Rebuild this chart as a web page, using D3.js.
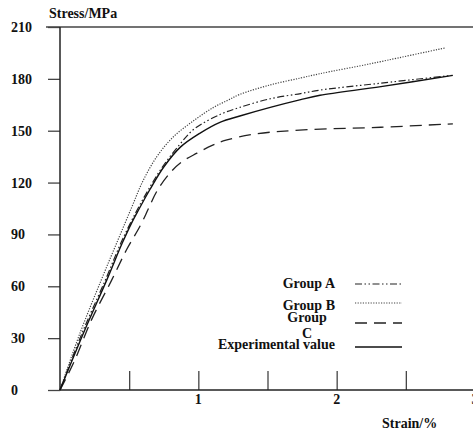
<!DOCTYPE html>
<html><head><meta charset="utf-8">
<script src="https://cdn.jsdelivr.net/npm/d3@7"></script>
<style>
html,body{margin:0;padding:0;background:#fff;}
svg text{font-family:"Liberation Serif","Times New Roman",serif;font-weight:bold;fill:#111;}
</style></head>
<body><svg id="c" width="473" height="434"></svg>
<script>
const yTicks = [0,30,60,90,120,150,180,210];
const xTickLabels = [1,2,3];
const xMinorTicks = [0.5,1,1.5,2,2.5];
const groupA = [[0,0],[0.16,33],[0.33,64],[0.44,85],[0.55,103],[0.64,116],[0.74,129],[0.86,141.5],[0.97,151],[1.16,159.5],[1.3,163.5],[1.52,168.5],[1.74,171.5],[1.88,173.5],[2.32,177.5],[2.83,182]];
const groupB = [[0,0],[0.145,33],[0.3,64],[0.42,87],[0.52,106],[0.6,121],[0.7,135],[0.82,146.5],[0.97,156],[1.11,163.5],[1.21,167.5],[1.3,171],[1.52,176.5],[1.74,180.5],[1.88,183],[2.2,188],[2.32,190],[2.79,198]];
const groupC = [[0,0],[0.1,16],[0.23,41],[0.37,63],[0.48,81],[0.58,95],[0.64,105],[0.7,115],[0.8,126],[0.88,132],[0.99,137],[1.1,141.5],[1.2,144.5],[1.4,148],[1.76,150.5],[2.32,152],[2.84,154]];
const experimental = [[0,0],[0.17,33],[0.34,64],[0.45,85],[0.52,97],[0.56,103],[0.65,116],[0.75,129],[0.87,140.5],[1.01,148.5],[1.16,155],[1.3,158.5],[1.52,163.5],[1.74,168],[1.88,170.5],[2.32,175.5],[2.84,182]];
const seriesNames = ["Group A","Group B","Group C","Experimental value"];

const svg = d3.select("#c");
const x = d3.scaleLinear().domain([0,3]).range([60,475]);
const y = d3.scaleLinear().domain([0,210]).range([390,27]);
const axisCol = "#444";

// top reference line at 210
svg.append("line").attr("x1",46).attr("x2",473).attr("y1",y(210)).attr("y2",y(210)).attr("stroke",axisCol).attr("stroke-width",1.5);

// y axis
const yAxis = d3.axisLeft(y).tickValues(yTicks).tickSize(12).tickFormat("");
const gy = svg.append("g").attr("transform","translate(60,0)").call(yAxis);
gy.select(".domain").remove();
gy.selectAll(".tick line").attr("stroke",axisCol).attr("stroke-width",1.3);
svg.append("line").attr("x1",60).attr("x2",60).attr("y1",y(210)).attr("y2",y(0)).attr("stroke","#222").attr("stroke-width",1.5);
svg.selectAll(".ylab").data(yTicks).enter().append("text").attr("class","ylab")
  .attr("x",11).attr("y",d=>y(d)+5).attr("font-size",14).text(d=>d);

// x axis
const xAxis = d3.axisTop(x).tickValues(xMinorTicks).tickSize(19).tickFormat("");
const gx = svg.append("g").attr("transform","translate(0,390)").call(xAxis);
gx.select(".domain").remove();
gx.selectAll(".tick line").attr("stroke",axisCol).attr("stroke-width",1.3);
svg.append("line").attr("x1",60).attr("x2",473).attr("y1",390).attr("y2",390).attr("stroke","#222").attr("stroke-width",1.5);
svg.selectAll(".xlab").data(xTickLabels).enter().append("text").attr("class","xlab")
  .attr("x",d=>x(d)).attr("y",404).attr("text-anchor","middle").attr("font-size",14).text(d=>d);

// titles
svg.append("text").attr("x",49).attr("y",18).attr("font-size",14).text("Stress/MPa");
svg.append("text").attr("x",382).attr("y",428).attr("font-size",14).text("Strain/%");

// curves
const line = d3.line().x(d=>x(d[0])).y(d=>y(d[1])).curve(d3.curveCatmullRom.alpha(0.5));
const styles = [
  {data:groupA, dash:"7,2.5,1.5,2.5,1.5,2.5", col:"#222", w:1.2},
  {data:groupB, dash:"1.2,1.4", col:"#444", w:1.2},
  {data:groupC, dash:"12,7", col:"#222", w:1.3},
  {data:experimental, dash:null, col:"#111", w:1.4}
];
styles.forEach(s=>{
  svg.append("path").datum(s.data).attr("d",line).attr("fill","none")
    .attr("stroke",s.col).attr("stroke-width",s.w).attr("stroke-dasharray",s.dash);
});

// legend
const legLineY = [284,303,323,347];
styles.forEach((s,i)=>{
  svg.append("line").attr("x1",355).attr("x2",402).attr("y1",legLineY[i]).attr("y2",legLineY[i])
    .attr("stroke",s.col).attr("stroke-width",s.w).attr("stroke-dasharray",s.dash);
});
svg.append("text").attr("x",335).attr("y",288).attr("text-anchor","end").attr("font-size",14).text(seriesNames[0]);
svg.append("text").attr("x",335).attr("y",310).attr("text-anchor","end").attr("font-size",14).text(seriesNames[1]);
const gc = seriesNames[2].split(" ");
svg.append("text").attr("x",307).attr("y",322).attr("text-anchor","middle").attr("font-size",14).text(gc[0]);
svg.append("text").attr("x",307).attr("y",338).attr("text-anchor","middle").attr("font-size",14).text(gc[1]);
svg.append("text").attr("x",335).attr("y",349).attr("text-anchor","end").attr("font-size",14).text(seriesNames[3]);
</script></body></html>
